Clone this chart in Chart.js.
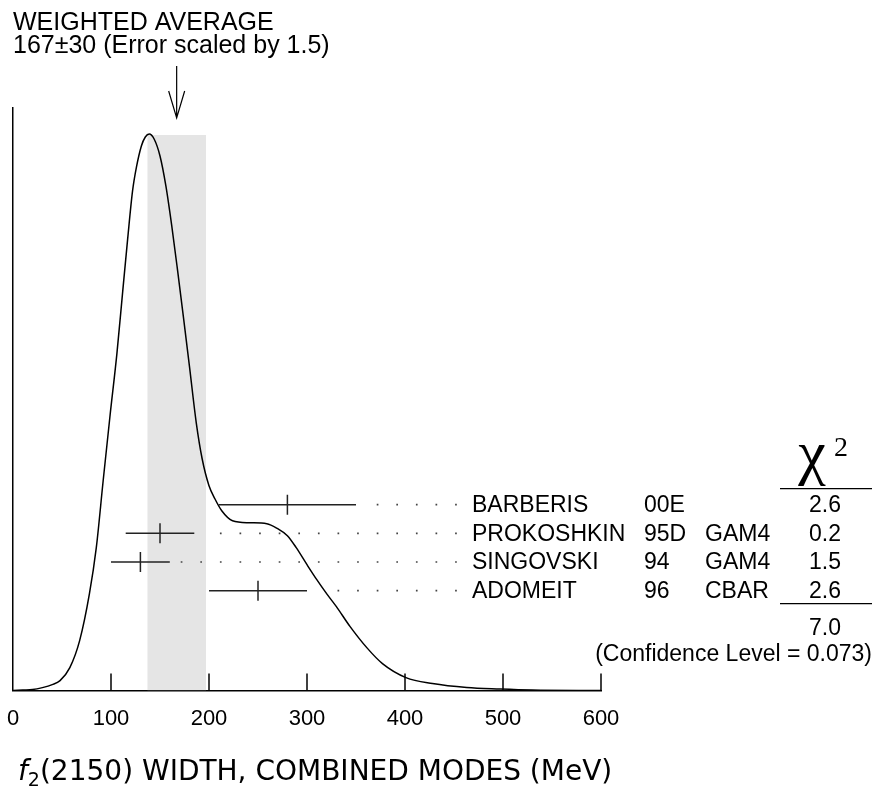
<!DOCTYPE html>
<html>
<head>
<meta charset="utf-8">
<script src="https://cdn.jsdelivr.net/npm/chart.js@4.4.0/dist/chart.umd.min.js"></script>
<style>
  html, body { margin: 0; padding: 0; background: #fff; }
</style>
</head>
<body>
<canvas id="c" width="873" height="789"></canvas>
<script>
// ideogram curve (x in MeV, height in arbitrary units)
const curveX = [0, 10, 20, 30, 40, 48, 58, 68, 78, 85, 92, 99, 106, 112, 117, 122, 126, 131, 135, 139,
  144, 150, 156, 162, 168, 174, 180, 187, 193, 200, 206, 213, 224, 241, 259, 270, 280, 289, 300, 310,
  320, 330, 344, 361, 377, 401, 428, 463, 497, 530, 600];
const curveY = [0, 0.5, 1, 3, 6, 10, 23, 50, 97, 143, 210, 275, 337, 400, 452, 500, 524, 545, 554, 557,
  552, 535, 505, 465, 420, 373, 325, 268, 232, 205, 192, 180, 170, 168, 167, 162, 155, 143, 126, 111,
  97, 84, 64, 43, 27, 13, 7, 3, 1.5, 0.5, 0];

// weighted average and its band
const avgValue = 167;
const avgError = 30;
const bandHeight = 556;

// measurements, top row first
const names = ['BARBERIS', 'PROKOSHKIN', 'SINGOVSKI', 'ADOMEIT'];
const years = ['00E', '95D', '94', '96'];
const techs = ['', 'GAM4', 'GAM4', 'CBAR'];
const values = [280, 150, 130, 250];
const errors = [70, 35, 30, 50];
const chi2 = ['2.6', '0.2', '1.5', '2.6'];
const rows = [4, 3, 2, 1];
const chi2Total = '7.0';
const confLevel = '(Confidence Level = 0.073)';

// dotted leaders from the bars to the labels
const dotStart = [372, 212, 172, 332];
const dotEnd = 452;
const dotStep = 20;

const xTicks = [0, 100, 200, 300, 400, 500, 600];

const FONT = '"Liberation Sans", Arial, sans-serif';

let datasets = [];
datasets.push({
    label: 'ideogram',
    data: curveX.map((x, i) => ({ x: x, y: curveY[i] })),
    borderColor: '#000',
    borderWidth: 1.5,
    pointRadius: 0,
    cubicInterpolationMode: 'monotone',
    fill: false,
    order: 1
});
datasets.push({
    label: 'band',
    data: [
        { x: avgValue - avgError, y: 0 }, { x: avgValue - avgError, y: bandHeight },
        { x: avgValue + avgError, y: bandHeight }, { x: avgValue + avgError, y: 0 }
    ],
    borderWidth: 0,
    borderColor: 'rgba(0,0,0,0)',
    backgroundColor: '#e5e5e5',
    pointRadius: 0,
    fill: 'origin',
    order: 9
});
for (let i = 0; i < names.length; i++) {
    datasets.push({
        label: names[i],
        yAxisID: 'row',
        data: [{ x: values[i] - errors[i], y: rows[i] }, { x: values[i] + errors[i], y: rows[i] }],
        borderColor: '#222',
        borderWidth: 1.5,
        pointRadius: 0,
        order: 2
    });
    let dots = [];
    for (let d = dotStart[i]; d <= dotEnd; d += dotStep) {
        dots.push({ x: d, y: rows[i] });
    }
    datasets.push({
        label: names[i] + ' leader',
        yAxisID: 'row',
        data: dots,
        showLine: false,
        pointStyle: 'rect',
        pointRadius: 1.2,
        backgroundColor: '#444',
        borderWidth: 0,
        order: 3
    });
}
datasets.push({
    label: 'values',
    yAxisID: 'row',
    data: values.map((v, i) => ({ x: v, y: rows[i] })),
    showLine: false,
    pointStyle: 'line',
    rotation: 90,
    pointRadius: 10,
    borderColor: '#222',
    borderWidth: 1.5,
    order: 2
});

const decor = {
    id: 'decor',
    afterDraw(chart) {
        const ctx = chart.ctx;
        const xs = chart.scales.x;
        const rs = chart.scales.row;
        const area = chart.chartArea;
        ctx.save();
        ctx.strokeStyle = '#000';
        ctx.fillStyle = '#000';

        // inward tick marks
        ctx.lineWidth = 1.5;
        for (const t of xTicks) {
            if (t === 0) continue;
            const px = xs.getPixelForValue(t);
            ctx.beginPath();
            ctx.moveTo(px, area.bottom);
            ctx.lineTo(px, area.bottom - 17);
            ctx.stroke();
        }

        // arrow to the weighted average
        const xa = xs.getPixelForValue(avgValue);
        ctx.lineWidth = 1.2;
        ctx.beginPath();
        ctx.moveTo(xa, area.top - 42);
        ctx.lineTo(xa, area.top + 10);
        ctx.moveTo(xa - 8, area.top - 17);
        ctx.lineTo(xa, area.top + 10);
        ctx.lineTo(xa + 8, area.top - 17);
        ctx.stroke();

        // measurement labels
        ctx.font = '23px ' + FONT;
        ctx.textBaseline = 'middle';
        for (let i = 0; i < names.length; i++) {
            const py = rs.getPixelForValue(rows[i]) + 1;
            ctx.textAlign = 'left';
            ctx.fillText(names[i], 472, py);
            ctx.fillText(years[i], 644, py);
            ctx.fillText(techs[i], 705, py);
            ctx.textAlign = 'center';
            ctx.fillText(chi2[i], 825, py);
        }
        const yTop = rs.getPixelForValue(rows[0]);
        const yBot = rs.getPixelForValue(rows[rows.length - 1]);
        ctx.textAlign = 'center';
        ctx.fillText(chi2Total, 825, yBot + 38);
        ctx.textAlign = 'right';
        ctx.fillText(confLevel, 872, yBot + 64);

        // chi-square header and rules
        ctx.lineWidth = 1.2;
        ctx.beginPath();
        ctx.moveTo(780, yTop - 16);
        ctx.lineTo(872, yTop - 16);
        ctx.moveTo(780, yBot + 13);
        ctx.lineTo(872, yBot + 13);
        ctx.stroke();
        ctx.textBaseline = 'alphabetic';
        ctx.textAlign = 'center';
        ctx.font = '62px "Liberation Serif", "Times New Roman", serif';
        ctx.fillText('\u03C7', 812, yTop - 32);
        ctx.font = '28px "Liberation Serif", "Times New Roman", serif';
        ctx.fillText('2', 841, yTop - 49);

        // axis title
        ctx.textAlign = 'left';
        ctx.textBaseline = 'alphabetic';
        let tx = 18;
        const ty = 780;
        ctx.font = 'italic 28px "DejaVu Sans", sans-serif';
        ctx.fillText('f', tx, ty);
        tx += ctx.measureText('f').width;
        ctx.font = '19px "DejaVu Sans", sans-serif';
        ctx.fillText('2', tx, ty + 6);
        tx += ctx.measureText('2').width;
        ctx.font = '28px "DejaVu Sans", sans-serif';
        ctx.fillText('(2150) WIDTH, COMBINED MODES (MeV)', tx, ty);
        ctx.restore();
    }
};

new Chart(document.getElementById('c'), {
    type: 'line',
    data: { datasets: datasets },
    plugins: [decor],
    options: {
        responsive: false,
        animation: false,
        layout: { padding: { left: 13, right: 272, top: 0, bottom: 42 } },
        plugins: {
            legend: { display: false },
            tooltip: { enabled: false },
            title: {
                display: true,
                text: ['WEIGHTED AVERAGE', '167\u00B130 (Error scaled by 1.5)'],
                align: 'start',
                color: '#000',
                font: { family: FONT, size: 25, weight: 'normal', lineHeight: 0.9 },
                padding: { top: 12, bottom: 51 }
            }
        },
        scales: {
            x: {
                type: 'linear',
                min: 0,
                max: 600,
                afterBuildTicks: (scale) => { scale.ticks = xTicks.map(v => ({ value: v })); },
                afterFit: (scale) => { scale.paddingLeft = 0; scale.paddingRight = 0; },
                ticks: { color: '#000', font: { family: FONT, size: 22 }, padding: 15 },
                grid: { display: false, drawTicks: false },
                border: { display: true, color: '#000', width: 1.5 }
            },
            y: {
                type: 'linear',
                min: 0,
                max: 583,
                afterFit: (scale) => { scale.width = 0; },
                ticks: { display: false },
                grid: { display: false, drawTicks: false },
                border: { display: true, color: '#000', width: 1.5 }
            },
            row: {
                type: 'linear',
                axis: 'y',
                position: 'right',
                display: false,
                min: -2.49,
                max: 17.85
            }
        }
    }
});
</script>
</body>
</html>
